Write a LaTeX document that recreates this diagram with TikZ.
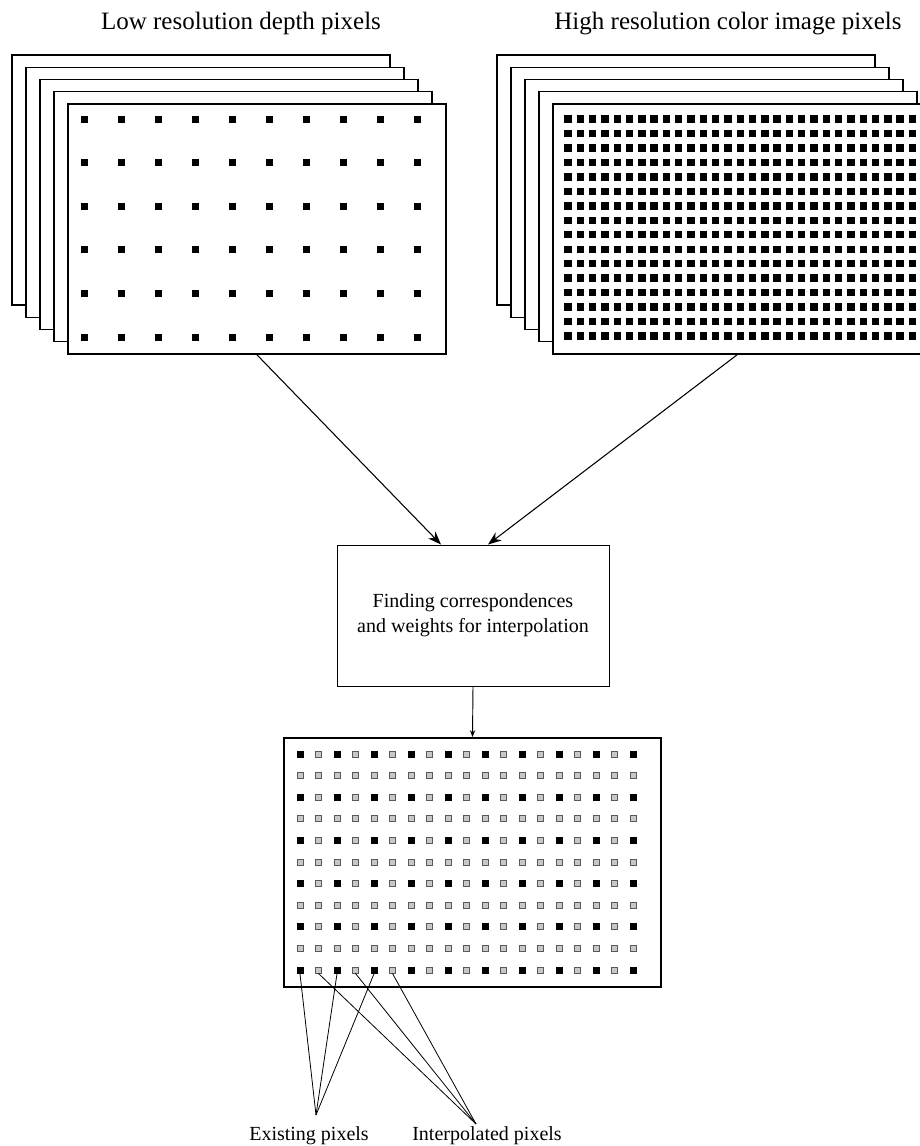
\documentclass[tikz,border=0pt]{standalone}
\usepackage{fontspec}
\setmainfont{Liberation Serif}
\usetikzlibrary{arrows.meta,calc}
\begin{document}
\begin{tikzpicture}[x=0.75pt,y=-0.75pt,
  sheet/.style={draw,line width=1.1pt,fill=white},
  frontsheet/.style={draw,line width=1.3pt,fill=white,inner sep=0pt,minimum width=283.5pt,minimum height=187.5pt},
  blk/.style={fill=black,inner sep=0pt,minimum size=5.25pt},
  gry/.style={draw=black!65,fill=black!22,line width=0.6pt,inner sep=0pt,minimum size=4.6pt},
  title/.style={font=\fontsize{18.75}{22}\selectfont,anchor=base},
  lbl/.style={font=\fontsize{15}{18}\selectfont,anchor=base},
  arr/.style={line width=0.8pt,-{Stealth[length=10pt,width=7.5pt]}},
  ptr/.style={line width=0.6pt}
]
\useasboundingbox (0,0) rectangle (920,1146);
% titles
\node[title] (tL) at (241,29) {Low resolution depth pixels};
\node[title] (tR) at (728,29) {High resolution color image pixels};
% left stack
\foreach \i in {0,...,3} {
  \draw[sheet] ({12+14*\i},{55+12.25*\i}) rectangle ++(378,250);
}
\node[frontsheet] (L) at (257,229) {};
\foreach \c in {0,...,9} {
  \foreach \r in {0,...,5} {
    \fill ({84+37*\c-3.5},{119+43.6*\r-3.5}) rectangle ++(7,7);
  }
}
% right stack
\foreach \i in {0,...,3} {
  \draw[sheet] ({497+14*\i},{55+12.25*\i}) rectangle ++(378,250);
}
\node[frontsheet] (R) at (742,229) {};
\foreach \c in {0,...,29} {
  \foreach \r in {0,...,15} {
    \fill ({568+12.3*\c-3.7},{119+14.47*\r-3.7}) rectangle ++(7.4,7.4);
  }
}
% process box
\node[draw,line width=0.75pt,inner sep=0pt,minimum width=204pt,minimum height=105.75pt,align=center,font=\fontsize{15}{18.75}\selectfont] (B) at (473,615.5) {Finding correspondences\\and weights for interpolation};
\draw[arr] (L.south) -- ([xshift=-24pt]B.north);
\draw[arr] ([xshift=-3.75pt]R.south) -- ([xshift=11.25pt]B.north);
% output
\node[draw,line width=1.6pt,inner sep=0pt,minimum width=282.75pt,minimum height=186.75pt] (O) at (472.5,862.5) {};
\draw[line width=0.7pt,-{Stealth[length=5pt,width=4pt]}] (B.south) -- (O.north);
\foreach \r in {0,...,10} {
  \foreach \c in {0,...,18} {
    \pgfmathtruncatemacro\isb{(mod(\r,2)==0)&&(mod(\c,2)==0)}
    \ifnum\isb=1
      \node[blk] (s-\r-\c) at ({300+18.5*\c},{754+21.6*\r}) {};
    \else
      \node[gry] (s-\r-\c) at ({300+18.5*\c},{754+21.6*\r}) {};
    \fi
  }
}
% labels and pointers
\node[lbl] (ex) at (309,1140) {Existing pixels};
\node[lbl] (ip) at (487,1140) {Interpolated pixels};
\coordinate (exP) at (316,1115);
\coordinate (ipP) at (476,1124);
\foreach \c in {0,2,4} { \draw[ptr] (s-10-\c.south) -- (exP); }
\foreach \c in {1,3,5} { \draw[ptr] (s-10-\c.south) -- (ipP); }
\end{tikzpicture}
\end{document}
